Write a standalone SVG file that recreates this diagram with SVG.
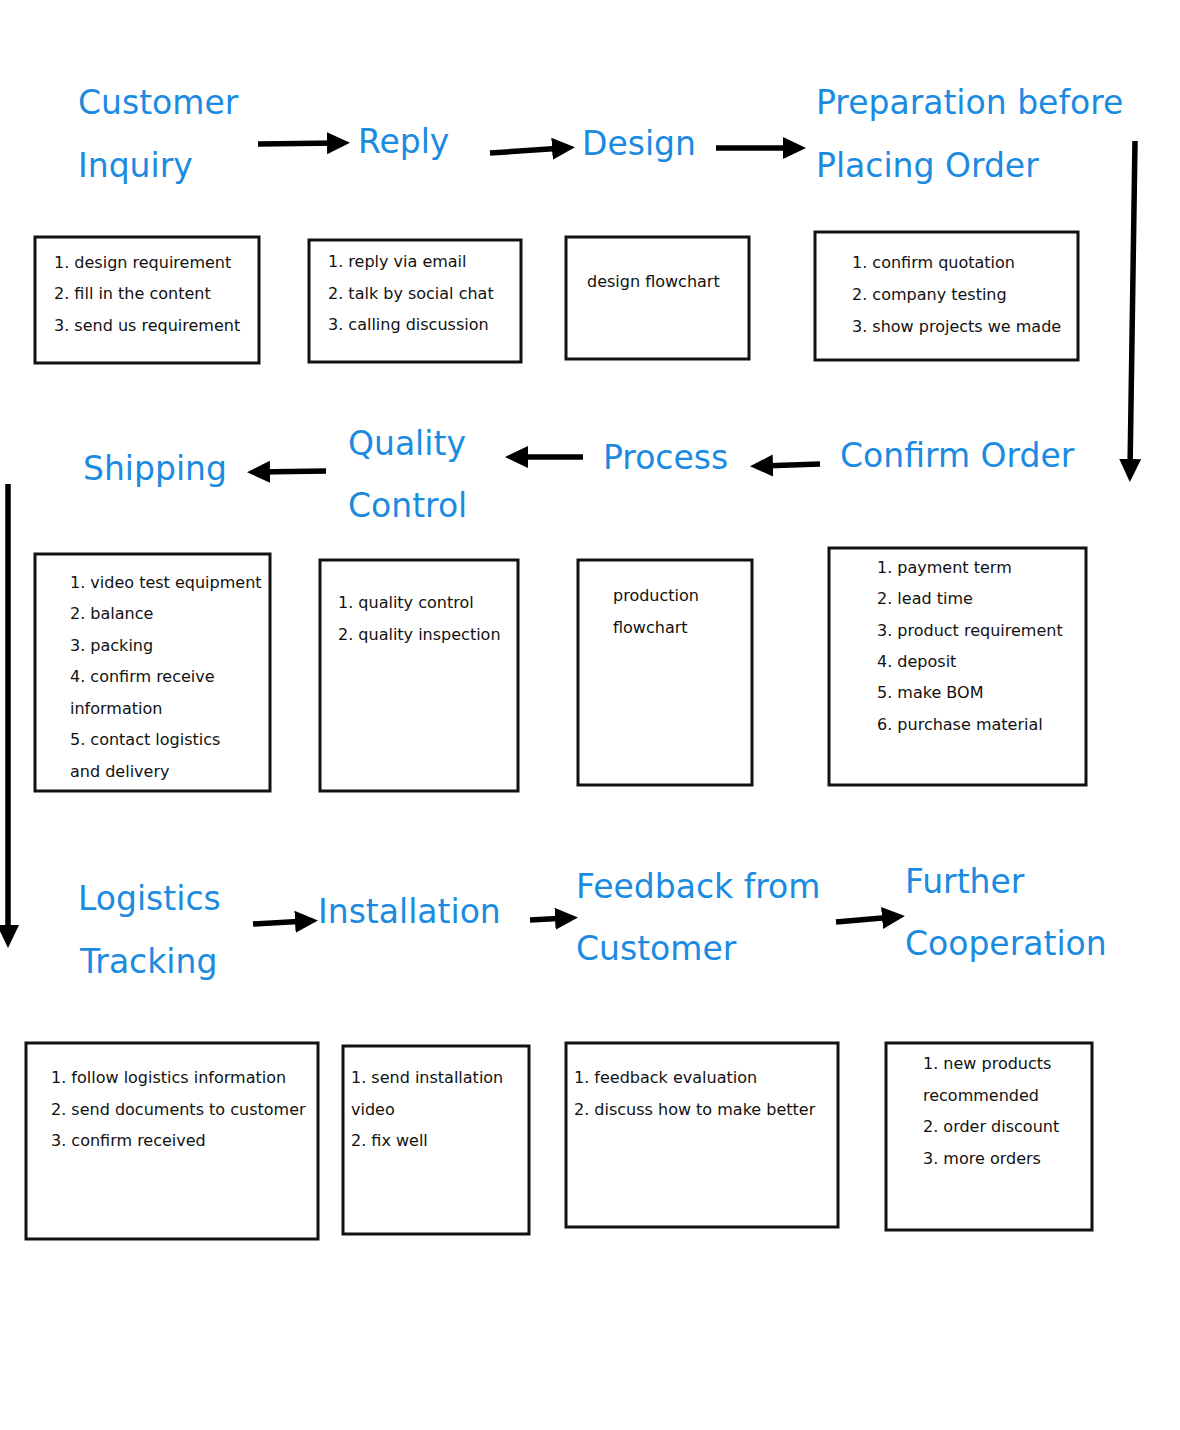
<svg xmlns="http://www.w3.org/2000/svg" width="1180" height="1430" viewBox="0 0 1180 1430">
<defs>
<style>
.t{font-family:"Comic Sans MS","DejaVu Sans",sans-serif;font-size:33px;fill:#1b8be2}
.b{font-family:"Comic Sans MS","DejaVu Sans",sans-serif;font-size:16px;fill:#111}
.box{fill:#fff;stroke:#111;stroke-width:3}
.c{stroke:#000;stroke-width:5.5;fill:none;marker-end:url(#ah)}
</style>
<marker id="ah" markerUnits="userSpaceOnUse" markerWidth="24" markerHeight="24" refX="12" refY="11" orient="auto">
<path d="M0,0 L23,11 L0,22 z" fill="#000"/>
</marker>
</defs>
<rect width="1180" height="1430" fill="#fff"/>

<g id="n1">
<text class="t" x="78" y="114">Customer</text>
<text class="t" x="78" y="177">Inquiry</text>
<rect class="box" x="35" y="237" width="224" height="126"/>
<text class="b" x="54" y="268">1. design requirement</text>
<text class="b" x="54" y="299">2. fill in the content</text>
<text class="b" x="54" y="331">3. send us requirement</text>
</g>
<g id="n2">
<text class="t" x="358" y="153">Reply</text>
<rect class="box" x="309" y="240" width="212" height="122"/>
<text class="b" x="328" y="267">1. reply via email</text>
<text class="b" x="328" y="299">2. talk by social chat</text>
<text class="b" x="328" y="330">3. calling discussion</text>
</g>
<g id="n3">
<text class="t" x="582" y="155">Design</text>
<rect class="box" x="566" y="237" width="183" height="122"/>
<text class="b" x="587" y="287">design flowchart</text>
</g>
<g id="n4">
<text class="t" x="816" y="114">Preparation before</text>
<text class="t" x="816" y="177">Placing Order</text>
<rect class="box" x="815" y="232" width="263" height="128"/>
<text class="b" x="852" y="268">1. confirm quotation</text>
<text class="b" x="852" y="300">2. company testing</text>
<text class="b" x="852" y="332">3. show projects we made</text>
</g>
<g id="n5">
<text class="t" x="840" y="467">Confirm Order</text>
<rect class="box" x="829" y="548" width="257" height="237"/>
<text class="b" x="877" y="573">1. payment term</text>
<text class="b" x="877" y="604">2. lead time</text>
<text class="b" x="877" y="636">3. product requirement</text>
<text class="b" x="877" y="667">4. deposit</text>
<text class="b" x="877" y="698">5. make BOM</text>
<text class="b" x="877" y="730">6. purchase material</text>
</g>
<g id="n6">
<text class="t" x="603" y="469">Process</text>
<rect class="box" x="578" y="560" width="174" height="225"/>
<text class="b" x="613" y="601">production</text>
<text class="b" x="613" y="633">flowchart</text>
</g>
<g id="n7">
<text class="t" x="348" y="455">Quality</text>
<text class="t" x="348" y="517">Control</text>
<rect class="box" x="320" y="560" width="198" height="231"/>
<text class="b" x="338" y="608">1. quality control</text>
<text class="b" x="338" y="640">2. quality inspection</text>
</g>
<g id="n8">
<text class="t" x="83" y="480">Shipping</text>
<rect class="box" x="35" y="554" width="235" height="237"/>
<text class="b" x="70" y="588">1. video test equipment</text>
<text class="b" x="70" y="619">2. balance</text>
<text class="b" x="70" y="651">3. packing</text>
<text class="b" x="70" y="682">4. confirm receive</text>
<text class="b" x="70" y="714">information</text>
<text class="b" x="70" y="745">5. contact logistics</text>
<text class="b" x="70" y="777">and delivery</text>
</g>
<g id="n9">
<text class="t" x="78" y="910">Logistics</text>
<text class="t" x="80" y="973">Tracking</text>
<rect class="box" x="26" y="1043" width="292" height="196"/>
<text class="b" x="51" y="1083">1. follow logistics information</text>
<text class="b" x="51" y="1115">2. send documents to customer</text>
<text class="b" x="51" y="1146">3. confirm received</text>
</g>
<g id="n10">
<text class="t" x="318" y="923">Installation</text>
<rect class="box" x="343" y="1046" width="186" height="188"/>
<text class="b" x="351" y="1083">1. send installation</text>
<text class="b" x="351" y="1115">video</text>
<text class="b" x="351" y="1146">2. fix well</text>
</g>
<g id="n11">
<text class="t" x="576" y="898">Feedback from</text>
<text class="t" x="576" y="960">Customer</text>
<rect class="box" x="566" y="1043" width="272" height="184"/>
<text class="b" x="574" y="1083">1. feedback evaluation</text>
<text class="b" x="574" y="1115">2. discuss how to make better</text>
</g>
<g id="n12">
<text class="t" x="905" y="893">Further</text>
<text class="t" x="905" y="955">Cooperation</text>
<rect class="box" x="886" y="1043" width="206" height="187"/>
<text class="b" x="923" y="1069">1. new products</text>
<text class="b" x="923" y="1101">recommended</text>
<text class="b" x="923" y="1132">2. order discount</text>
<text class="b" x="923" y="1164">3. more orders</text>
</g>

<g id="connectors">
<path class="c" d="M258,144 L339,143"/>
<path class="c" d="M490,153 L564,148"/>
<path class="c" d="M716,148 L795,148"/>
<path class="c" d="M1135,141 L1130,471"/>
<path class="c" d="M820,464 L761,466"/>
<path class="c" d="M583,457 L516,457"/>
<path class="c" d="M326,471 L258,472"/>
<path class="c" d="M8,484 L8,937"/>
<path class="c" d="M253,924 L307,921"/>
<path class="c" d="M530,920 L567,918"/>
<path class="c" d="M836,922 L894,917"/>
</g>
</svg>
